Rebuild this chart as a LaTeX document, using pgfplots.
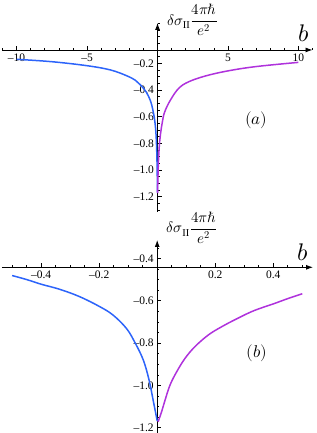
\documentclass[border=0pt]{standalone}
\usepackage{pgfplots}
\pgfplotsset{compat=1.18}
\usepackage{fontspec}
\usepackage{unicode-math}
\setmainfont{Liberation Serif}
\setmathfont{Latin Modern Math}
\usetikzlibrary{arrows.meta}
\definecolor{cblue}{RGB}{45,100,250}
\definecolor{cpurp}{RGB}{175,50,220}
\pgfplotsset{
 myax/.style={
  scale only axis,
  axis lines=middle,
  axis line style={line width=0.9pt, -{Latex[length=7pt,width=5pt]}},
  tick align=inside,
  major tick length=4pt, minor tick length=2.2pt,
  every tick/.style={black, line width=0.6pt},
  tick label style={font=\fontsize{11.5}{13}\selectfont},
  clip=false,
 },
 curve/.style={line width=1.5pt, smooth, tension=0.6},
}
\begin{document}
\begin{tikzpicture}
\useasboundingbox (0,0) rectangle (316pt,433pt);
% panel (a)
\begin{axis}[myax, at={(2.5pt,221pt)}, anchor=south west, width=310pt, height=189pt,
 xmin=-11, xmax=11, ymin=-1.314, ymax=0.102,
 axis x line shift=13.35pt,
 xtick={-10,-5,5,10}, xticklabels={\textendash10,\textendash5,5,10},
 minor xtick={-11,-10,...,11},
 ytick={-1.2,-1,-0.8,-0.6,-0.4,-0.2},
 yticklabels={\textendash1.2,\textendash1.0,\textendash0.8,\textendash0.6,\textendash0.4,\textendash0.2},
 minor ytick={-1.3,-1.25,...,0.1},
]
\addplot[cblue, curve] coordinates {(-10,-0.170) (-7.5,-0.188) (-5,-0.218) (-3.33,-0.250) (-2.15,-0.295) (-1.56,-0.328) (-1.2,-0.363) (-0.8,-0.415) (-0.5,-0.481) (-0.336,-0.546) (-0.198,-0.628) (-0.106,-0.731) (-0.048,-0.880) (-0.014,-1.070) (0,-1.168)};
\addplot[cpurp, curve] coordinates {(0.003,-1.172) (0.027,-1.070) (0.067,-0.936) (0.13,-0.817) (0.222,-0.723) (0.335,-0.646) (0.5,-0.567) (0.92,-0.475) (1.51,-0.387) (2.22,-0.338) (3.4,-0.295) (4.94,-0.258) (6.95,-0.225) (10,-0.193)};
\node[anchor=west, font=\fontsize{15}{17}\selectfont] at (axis cs:0.43,0.124) {$\delta\sigma_{\mathrm{II}}\displaystyle\frac{4\pi\hbar}{e^2}$};
\node[font=\fontsize{24}{26}\selectfont] at (axis cs:10.35,0.027) {$b$};
\node[font=\fontsize{17}{19}\selectfont] at (axis cs:7.0,-0.625) {$(a)$};
\end{axis}
% panel (b)
\begin{axis}[myax, at={(2pt,0pt)}, anchor=south west, width=311pt, height=193pt,
 xmin=-0.535, xmax=0.537, ymin=-1.225, ymax=-0.313,
 axis x line shift=27.3pt,
 xtick={-0.4,-0.2,0.2,0.4}, xticklabels={\textendash0.4,\textendash0.2,0.2,0.4},
 minor xtick={-0.5,-0.45,...,0.5},
 ytick={-1.2,-1,-0.8,-0.6,-0.4},
 yticklabels={\textendash1.2,\textendash1.0,\textendash0.8,\textendash0.6,\textendash0.4},
 minor ytick={-1.2,-1.15,...,-0.35},
]
\addplot[cblue, curve] coordinates {(-0.5,-0.481) (-0.45,-0.500) (-0.4,-0.522) (-0.336,-0.546) (-0.267,-0.581) (-0.198,-0.628) (-0.152,-0.668) (-0.106,-0.731) (-0.077,-0.797) (-0.048,-0.880) (-0.028,-0.975) (-0.014,-1.070) (0,-1.168)};
\addplot[cpurp, curve] coordinates {(0.003,-1.172) (0.015,-1.125) (0.027,-1.070) (0.044,-0.999) (0.067,-0.936) (0.096,-0.872) (0.13,-0.817) (0.176,-0.762) (0.222,-0.723) (0.279,-0.682) (0.335,-0.646) (0.4,-0.615) (0.45,-0.590) (0.5,-0.567)};
\node[anchor=west, font=\fontsize{15}{17}\selectfont] at (axis cs:0.02,-0.256) {$\delta\sigma_{\mathrm{II}}\displaystyle\frac{4\pi\hbar}{e^2}$};
\node[font=\fontsize{24}{26}\selectfont] at (axis cs:0.502,-0.370) {$b$};
\node[font=\fontsize{17}{19}\selectfont] at (axis cs:0.344,-0.847) {$(b)$};
\end{axis}
\end{tikzpicture}
\end{document}
